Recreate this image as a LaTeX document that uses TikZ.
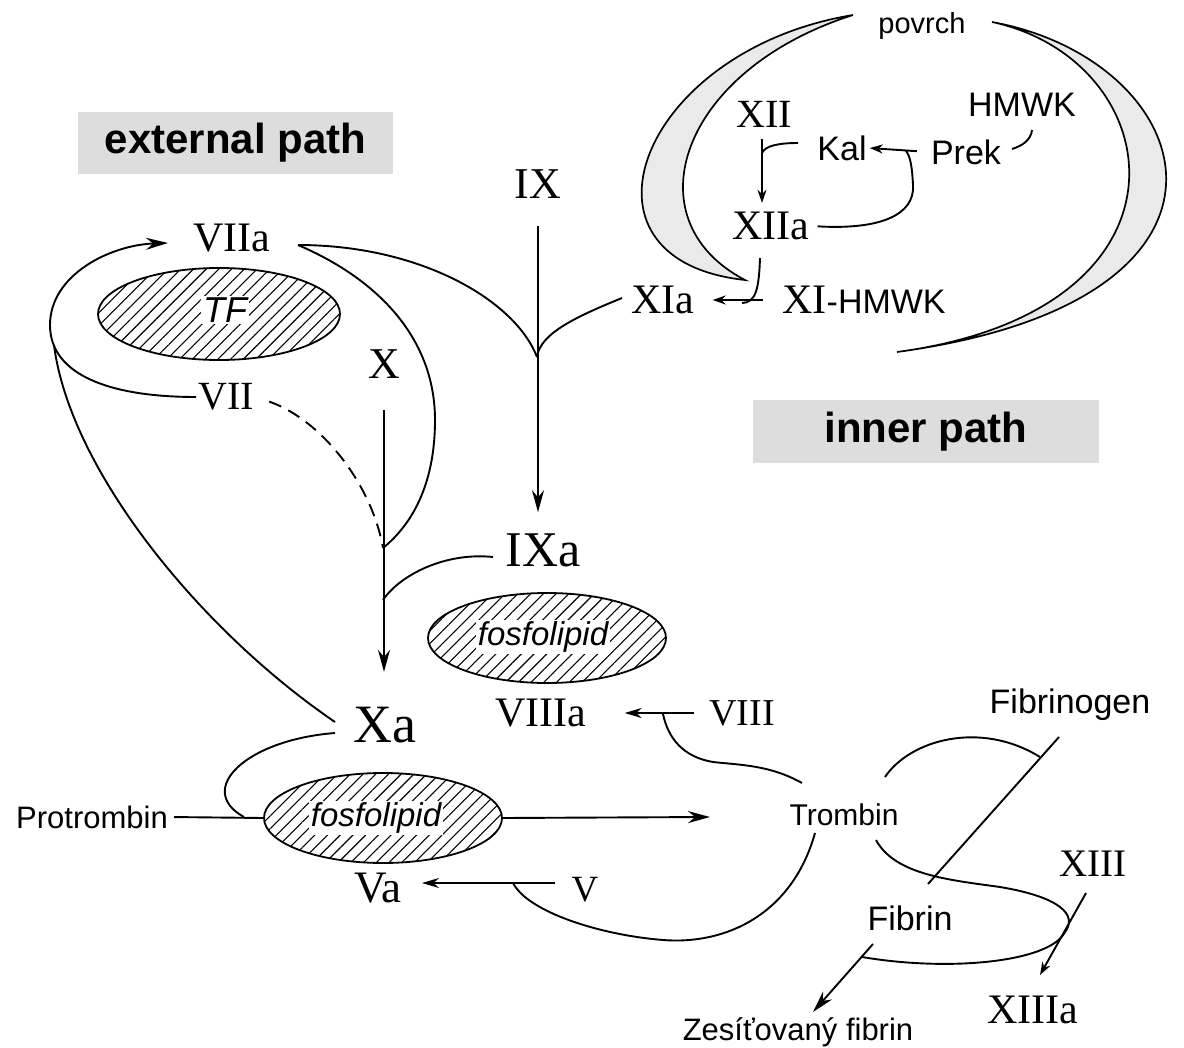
\documentclass[tikz,border=0pt]{standalone}
\usepackage{fontspec}
\setmainfont{Liberation Serif}
\setsansfont{Liberation Sans}
\usetikzlibrary{arrows.meta,shapes.geometric,patterns.meta}
\definecolor{boxgray}{HTML}{DDDDDD}
\definecolor{membranegray}{HTML}{EAEAEA}
\newcommand{\fsz}[1]{\fontsize{#1}{#1}\selectfont}
\tikzset{
  factor/.style={font=\rmfamily\fsz{42}, inner sep=2pt},
  agent/.style={font=\sffamily\fsz{34}, inner sep=2pt},
  pathbox/.style={fill=boxgray, font=\sffamily\bfseries\fsz{42}, minimum width=315pt, minimum height=62pt},
  hatchzone/.style={ellipse, draw, line width=1.8pt, minimum width=238pt, minimum height=90pt,
    pattern={Lines[angle=45,distance=9pt,line width=1.1pt]}},
  zonetext/.style={font=\sffamily\itshape\fsz{33}, fill=white, inner sep=2pt},
  link/.style={line width=1.9pt},
  act/.style={link, -{Stealth[length=22pt,width=12pt]}},
  actmd/.style={link, -{Stealth[length=17pt,width=10pt]}},
  actsm/.style={link, -{Stealth[length=13pt,width=9pt]}},
  membrane/.style={draw, line width=1.7pt, fill=membranegray},
}
\begin{document}
\begin{tikzpicture}[x=1pt,y=-1pt]
	\useasboundingbox (0,0) rectangle (1184,1048);
	% povrch
	\draw[membrane] (853,15) .. controls (640,50) and (560,260) .. (745,280) .. controls (630,220) and (680,70) .. (853,15) -- cycle;
	\draw[membrane] (992,22) .. controls (1200,60) and (1280,300) .. (897,352) .. controls (1210,310) and (1170,60) .. (992,22) -- cycle;
	
	\node[agent, font=\sffamily\fsz{29}] (povrch) at (922,26) {povrch};
	\node[factor, font=\rmfamily\fsz{40}] (XII) at (764,114) {XII};
	\node[agent] (Kal) at (842,148) {Kal};
	\node[agent] (Prek) at (966,152) {Prek};
	\node[agent] (HMWK) at (1022,105) {HMWK};
	\node[factor] (XIIa) at (771,226) {XIIa};
	\node[factor] (XIa) at (663,300) {XIa};
	\node[factor] (XIHMWK) at (864,300) {XI{\sffamily\fsz{34}-HMWK}};
	\node[factor, font=\rmfamily\fsz{44}] (IX) at (538,184) {IX};
	\node[factor] (VIIa) at (232,238) {VIIa};
	\node[hatchzone, minimum width=242pt, minimum height=92pt] (TFzone) at (219,314) {};
	\node[zonetext, font=\sffamily\itshape\fsz{36}] (TF) at (225,310) {TF};
	\node[factor, font=\rmfamily\fsz{40}] (VII) at (226,397) {VII};
	\node[factor, font=\rmfamily\fsz{44}] (X) at (384,364) {X};
	\node[factor, font=\rmfamily\fsz{50}] (IXa) at (543,550) {IXa};
	\node[hatchzone] (fosfA) at (547,638) {};
	\node[zonetext] (fosfAtext) at (543,637) {fosfolipid};
	\node[factor, font=\rmfamily\fsz{54}] (Xa) at (385,725) {Xa};
	\node[factor] (VIIIa) at (541,713) {VIIIa};
	\node[factor, font=\rmfamily\fsz{38}] (VIII) at (742,713) {VIII};
	\node[agent, font=\sffamily\fsz{31}] (Protrombin) at (92,817) {Protrombin};
	\node[hatchzone] (fosfB) at (383,818) {};
	\node[zonetext] (fosfBtext) at (376,818) {fosfolipid};
	\node[agent, font=\sffamily\fsz{30}] (Trombin) at (844,815) {Trombin};
	\node[factor, font=\rmfamily\fsz{45}] (Va) at (378,888) {Va};
	\node[factor, font=\rmfamily\fsz{37}] (V) at (585,890) {V};
	\node[agent] (Fibrinogen) at (1070,705) {Fibrinogen};
	\node[agent] (Fibrin) at (910,918) {Fibrin};
	\node[factor, font=\rmfamily\fsz{39}] (XIII) at (1093,864) {XIII};
	\node[factor] (XIIIa) at (1033,1010) {XIIIa};
	\node[agent, font=\sffamily\fsz{31}] (Zes) at (798,1032) {Zesíťovaný fibrin};
	\node[pathbox] (extpath) at (235.5,143) {external path};
	\node[pathbox, minimum width=346pt, minimum height=63pt] (inpath) at (926,431.5) {inner path};
	
	\coordinate (j12) at (762,153);
	\coordinate (kalW) at (798,143);
	\coordinate (jK) at (906,151);
	\coordinate (hmwkS) at (1032,130);
	\coordinate (prekE) at (1012,149);
	\coordinate (xiiaS) at (760,258);
	\coordinate (jXI) at (742,303);
	\coordinate (xiaW) at (622,298);
	\coordinate (jIX) at (537,357);
	\coordinate (viiaE) at (298,245);
	\coordinate (viiaW) at (168,243);
	\coordinate (jXa1) at (383,548);
	\coordinate (jXa2) at (383,600);
	\coordinate (ixaW) at (493,557);
	\coordinate (jL) at (54,345);
	\coordinate (xaW) at (335,722);
	\coordinate (xaWlow) at (335,733);
	\coordinate (jPT) at (244,817);
	\coordinate (tipT) at (710,817);
	\coordinate (jVIII) at (663,714);
	\coordinate (tromNW) at (802,783);
	\coordinate (vW) at (555,883);
	\coordinate (vaE) at (422,883);
	\coordinate (jV) at (513,883);
	\coordinate (tromS) at (815,833);
	\coordinate (fgA) at (1059,737);
	\coordinate (fgB) at (928,884);
	\coordinate (jFg) at (1040,757);
	\coordinate (tromNE) at (885,777);
	\coordinate (tromSE) at (876,840);
	\coordinate (jFb) at (862,957);
	\coordinate (fbS) at (873,944);
	\coordinate (zesN) at (813,1012);
	\coordinate (xiiiS) at (1086,893);
	\coordinate (xiiiaN) at (1040,975);
	
	% inner path
	\draw[actsm, shorten <=10pt, shorten >=7pt] (XII.south -| j12) -- (XIIa.north -| j12);
	\draw[link] (kalW) .. controls (778,143) and (765,146) .. (j12);
	\draw[actsm, shorten <=12pt, shorten >=1pt] (Prek.west) -- (Kal.east);
	\draw[link, shorten <=6pt] (XIIa.east) .. controls (880,230) and (915,215) .. (913,185) .. controls (912,165) and (910,156) .. (jK);
	\draw[link] (hmwkS) .. controls (1031,140) and (1022,146) .. (prekE);
	\draw[link] (xiiaS) .. controls (759,288) and (756,303) .. (jXI);
	\draw[actsm, shorten <=17pt, shorten >=16pt] (XIHMWK.west) -- (XIa.east);
	\draw[link] (xiaW) .. controls (578,316) and (540,333) .. (jIX);
	\draw[act, shorten <=25pt, shorten >=19pt] (IX.south) -- (IX.south |- IXa.north);
	
	% external path
	\draw[link] (viiaE) .. controls (420,245) and (515,300) .. (jIX);
	\draw[link] (viiaE) .. controls (380,280) and (435,340) .. (435,420) .. controls (435,480) and (415,522) .. (jXa1);
	\draw[act] (VII.west) .. controls (110,397) and (50,375) .. (50,325) .. controls (50,275) and (110,245) .. (viiaW);
	\draw[link, dash pattern=on 13pt off 8pt, shorten <=14pt] (VII.east) .. controls (322,420) and (372,485) .. (jXa1);
	\draw[act, shorten <=29pt, shorten >=33pt] (X.south) -- (X.south |- Xa.north);
	\draw[link] (ixaW) .. controls (445,552) and (400,575) .. (jXa2);
	\draw[link] (jL) .. controls (70,470) and (200,630) .. (xaW);
	
	% common path
	\draw[link] (xaWlow) .. controls (245,740) and (195,790) .. (jPT);
	\draw[link, shorten <=4pt] (Protrombin.east) -- (fosfB.west);
	\draw[act] (fosfB.east) -- (tipT);
	\draw[actmd, shorten <=13pt, shorten >=36pt] (VIII.west) -- (VIIIa.east);
	\draw[link] (tromNW) .. controls (770,765) and (740,765) .. (713,762) .. controls (683,757) and (668,738) .. (jVIII);
	\draw[actmd] (vW) -- (vaE);
	\draw[link] (tromS) .. controls (792,915) and (725,945) .. (663,940) .. controls (600,935) and (528,912) .. (jV);
	\draw[link] (fgA) -- (fgB);
	\draw[link] (tromNE) .. controls (910,740) and (980,720) .. (jFg);
	\draw[link] (tromSE) .. controls (895,875) and (950,880) .. (1000,887) .. controls (1060,897) and (1078,915) .. (1065,932) .. controls (1050,962) and (950,972) .. (jFb);
	\draw[act] (fbS) -- (zesN);
	\draw[actsm] (xiiiS) -- (xiiiaN);
\end{tikzpicture}
\end{document}
